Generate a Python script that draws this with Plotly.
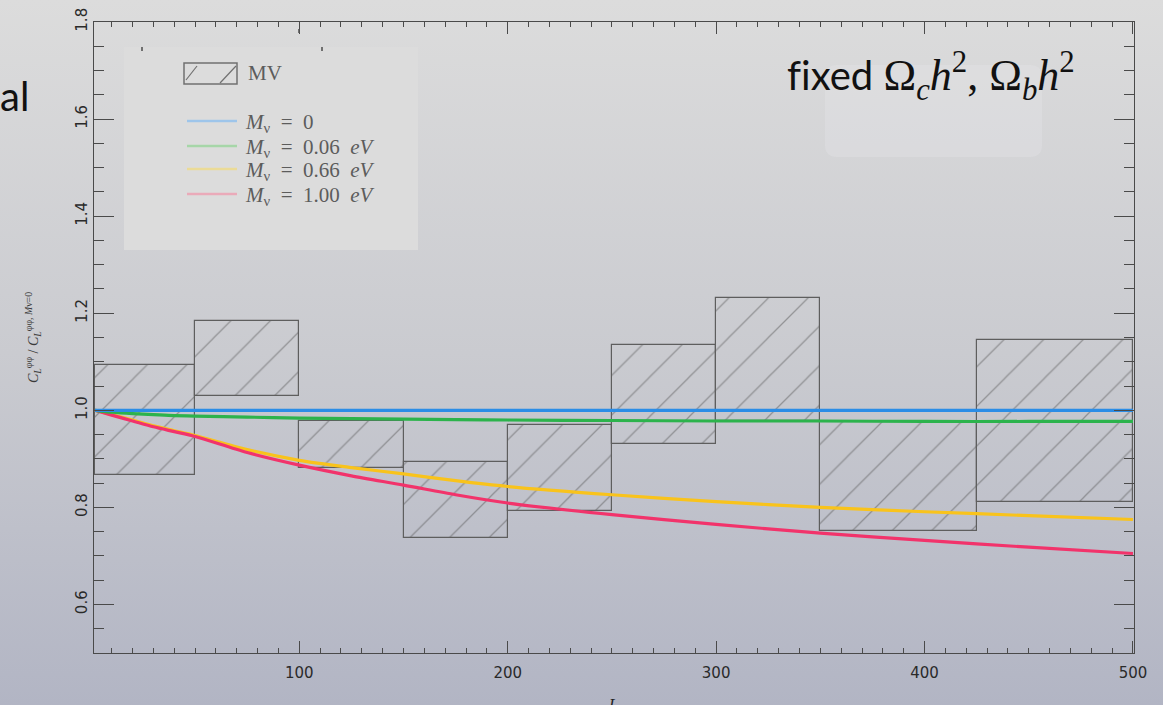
import base64
import plotly.graph_objects as go

W, H = 1163, 705

# MV bandpower error boxes: bin edges in L and lower/upper ratio bounds
bin_lo = [2, 50, 100, 150, 200, 250, 300, 350, 425]
bin_hi = [50, 100, 150, 200, 250, 300, 350, 425, 500]
mv_low = [0.866, 1.029, 0.882, 0.736, 0.792, 0.930, 0.978, 0.751, 0.812]
mv_high = [1.094, 1.185, 0.977, 0.893, 0.969, 1.135, 1.231, 0.976, 1.144]

# lensing power ratio curves vs multipole L
ell = [2, 10, 20, 30, 40, 50, 75, 100, 125, 150, 175, 200, 250, 300, 350, 400, 450, 500]
ratio_m000 = [1.000, 1.000, 1.000, 1.000, 1.000, 1.000, 1.000, 1.000, 1.000,
              1.000, 1.000, 1.000, 1.000, 1.000, 1.000, 1.000, 1.000, 1.000]
ratio_m006 = [1.000, 0.996, 0.993, 0.991, 0.989, 0.988, 0.986, 0.984, 0.983,
              0.982, 0.981, 0.980, 0.979, 0.978, 0.978, 0.977, 0.977, 0.977]
ratio_m066 = [1.000, 0.991, 0.980, 0.968, 0.958, 0.948, 0.919, 0.897, 0.882,
              0.869, 0.855, 0.843, 0.826, 0.812, 0.800, 0.791, 0.783, 0.775]
ratio_m100 = [1.000, 0.990, 0.978, 0.966, 0.956, 0.946, 0.913, 0.887, 0.865,
              0.846, 0.826, 0.809, 0.785, 0.765, 0.747, 0.732, 0.718, 0.705]

NB = "\u00a0"
legend_labels = [f"<i>M</i><sub>ν</sub>{NB*2}={NB*2}0",
                 f"<i>M</i><sub>ν</sub>{NB*2}={NB*2}0.06{NB*2}<i>eV</i>",
                 f"<i>M</i><sub>ν</sub>{NB*2}={NB*2}0.66{NB*2}<i>eV</i>",
                 f"<i>M</i><sub>ν</sub>{NB*2}={NB*2}1.00{NB*2}<i>eV</i>"]
x_ticks = [100, 200, 300, 400, 500]
y_ticks = [0.6, 0.8, 1.0, 1.2, 1.4, 1.6, 1.8]

line_colors = ["#2b8de6", "#2cb34c", "#f9c31b", "#f2336b"]
pale_colors = ["#9ec5ea", "#a6d6a8", "#ebdb97", "#eaaab9"]


def px(x):
    return x / W


def py(y):
    return 1 - y / H


fig = go.Figure()

centers = [(a + b) / 2 for a, b in zip(bin_lo, bin_hi)]
widths = [b - a for a, b in zip(bin_lo, bin_hi)]
heights = [h - l for l, h in zip(mv_low, mv_high)]

fig.add_trace(go.Bar(
    x=centers, y=heights, base=mv_low, width=widths,
    marker=dict(color="rgba(0,0,0,0)",
                line=dict(color="#5e5e5e", width=1.2),
                pattern=dict(shape="/", size=28, solidity=0.045,
                             fgcolor="#5a5a5a", fillmode="overlay")),
    showlegend=False, hoverinfo="skip"))

curves = [ratio_m066, ratio_m100, ratio_m006, ratio_m000]
curve_colors = [line_colors[2], line_colors[3], line_colors[1], line_colors[0]]
for ys, c in zip(curves, curve_colors):
    fig.add_trace(go.Scatter(x=ell, y=ys, mode="lines",
                             line=dict(color=c, width=3.2, shape="spline", smoothing=0.8),
                             showlegend=False, hoverinfo="skip"))

# vertical background gradient
svg = (f'<svg xmlns="http://www.w3.org/2000/svg" width="{W}" height="{H}" preserveAspectRatio="none">'
       '<defs><linearGradient id="g" x1="0" y1="0" x2="0" y2="1">'
       '<stop offset="0" stop-color="#dcdcdc"/>'
       '<stop offset="0.5" stop-color="#cacbd0"/>'
       '<stop offset="1" stop-color="#b2b5c4"/>'
       '</linearGradient></defs>'
       f'<rect width="{W}" height="{H}" fill="url(#g)"/></svg>')
bg_src = "data:image/svg+xml;base64," + base64.b64encode(svg.encode()).decode()

axis_color = "#4a4a4a"
tick_font = dict(family="DejaVu Sans", size=15, color="#2a2a2a")

fig.update_layout(
    width=W, height=H,
    margin=dict(l=0, r=0, t=0, b=0),
    template="none",
    paper_bgcolor="#cfd0d4",
    plot_bgcolor="rgba(0,0,0,0)",
    bargap=0,
    images=[dict(source=bg_src, xref="paper", yref="paper", x=0, y=1,
                 sizex=1, sizey=1, xanchor="left", yanchor="top",
                 sizing="stretch", layer="below")],
    xaxis=dict(domain=[px(94), px(1134)], range=[1.5, 500.5],
               showgrid=False, zeroline=False, automargin=False,
               showline=True, linecolor=axis_color, linewidth=1.2, mirror="allticks",
               ticks="inside", ticklen=12, tickwidth=1, tickcolor=axis_color,
               tickvals=x_ticks, ticktext=[str(v) for v in x_ticks], tickfont=tick_font,
               ticklabelstandoff=6,
               minor=dict(ticks="inside", ticklen=5, dtick=10, tick0=0,
                          tickcolor=axis_color, tickwidth=1, showgrid=False)),
    yaxis=dict(domain=[py(653), py(22)], range=[0.5, 1.8],
               showgrid=False, zeroline=False, automargin=False,
               showline=True, linecolor=axis_color, linewidth=1.2, mirror="allticks",
               ticks="inside", ticklen=20, tickwidth=1, tickcolor=axis_color,
               tickvals=y_ticks, ticktext=[f"{v:.1f}" for v in y_ticks],
               tickangle=-90, tickfont=tick_font,
               minor=dict(ticks="inside", ticklen=10, dtick=0.05, tick0=0,
                          tickcolor=axis_color, tickwidth=1, showgrid=False)),
)

shapes = []
# legend panel
shapes.append(dict(type="rect", xref="paper", yref="paper",
                   x0=px(124), x1=px(418), y0=py(250), y1=py(47),
                   fillcolor="#dcdcdc", line=dict(width=0), layer="below"))
# faint rounded panel behind the annotation
w2, h2, r = 108.5, 46, 12
rpath = (f"M{-w2 + r},{-h2} L{w2 - r},{-h2} Q{w2},{-h2} {w2},{-h2 + r} "
         f"L{w2},{h2 - r} Q{w2},{h2} {w2 - r},{h2} L{-w2 + r},{h2} "
         f"Q{-w2},{h2} {-w2},{h2 - r} L{-w2},{-h2 + r} Q{-w2},{-h2} {-w2 + r},{-h2} Z")
shapes.append(dict(type="path", xref="paper", yref="paper",
                   xsizemode="pixel", ysizemode="pixel",
                   xanchor=px(933.5), yanchor=py(111), path=rpath,
                   fillcolor="rgba(232,232,234,0.3)", line=dict(width=0), layer="below"))
# small marks along the top of the legend panel
for mx, my0, my1 in [(142, 47, 51), (322, 47, 51), (299, 29, 33)]:
    shapes.append(dict(type="line", xref="paper", yref="paper",
                       x0=px(mx), x1=px(mx), y0=py(my0), y1=py(my1),
                       line=dict(color="#555555", width=1.6)))
# hatched swatch for MV
shapes.append(dict(type="rect", xref="paper", yref="paper",
                   x0=px(184), x1=px(237), y0=py(84), y1=py(63),
                   line=dict(color="#707070", width=1.5)))
for (a, b, c, d) in [(186, 80, 197, 66), (220, 83, 236, 66)]:
    shapes.append(dict(type="line", xref="paper", yref="paper",
                       x0=px(a), y0=py(b), x1=px(c), y1=py(d),
                       line=dict(color="#707070", width=1.2)))
# line swatches
legend_y = [121, 146, 169, 194]
for yy, col in zip(legend_y, pale_colors):
    shapes.append(dict(type="line", xref="paper", yref="paper",
                       x0=px(187), x1=px(237), y0=py(yy), y1=py(yy),
                       line=dict(color=col, width=2.6)))
fig.update_layout(shapes=shapes)

ann = []
legend_font = dict(family="Liberation Serif", size=21, color="#5c5c5c")
ann.append(dict(text="MV", x=px(246), y=py(73), xref="paper", yref="paper",
                xanchor="left", yanchor="middle", showarrow=False,
                font=dict(family="Liberation Serif", size=21, color="#5c5c5c")))
for yy, lab in zip(legend_y, legend_labels):
    ann.append(dict(text=lab, x=px(243), y=py(yy + 2), xref="paper", yref="paper",
                    xanchor="left", yanchor="middle", showarrow=False, font=legend_font))
ann.append(dict(
    text=("<span style='font-family:Lato;font-size:40px'>f\u200cixed </span>"
          "Ω<sub><i>c</i></sub><i>h</i><sup>2</sup>,"
          f"{NB}Ω<sub><i>b</i></sub><i>h</i><sup>2</sup>"),
    x=px(785), y=py(76), xref="paper", yref="paper", xanchor="left", yanchor="middle",
    showarrow=False, font=dict(family="Liberation Serif", size=44, color="#111111")))
ann.append(dict(text="al", x=px(31), y=py(96), xref="paper", yref="paper",
                xanchor="right", yanchor="middle", showarrow=False,
                font=dict(family="Lato", size=40, color="#111111")))
ann.append(dict(
    text="<i>C</i><sub><i>L</i></sub><sup>φφ</sup> / <i>C</i><sub><i>L</i></sub><sup>φφ, <i>M</i>ν=0</sup>",
    x=px(33), y=py(338), xref="paper", yref="paper", textangle=-90,
    xanchor="center", yanchor="middle", showarrow=False,
    font=dict(family="Liberation Serif", size=14, color="#3a3a3a")))
ann.append(dict(text="<i>L</i>", x=px(613), y=py(694), xref="paper", yref="paper",
                xanchor="center", yanchor="top", showarrow=False,
                font=dict(family="Liberation Serif", size=16, color="#222222")))
fig.update_layout(annotations=ann)

fig.write_html("out.html")
